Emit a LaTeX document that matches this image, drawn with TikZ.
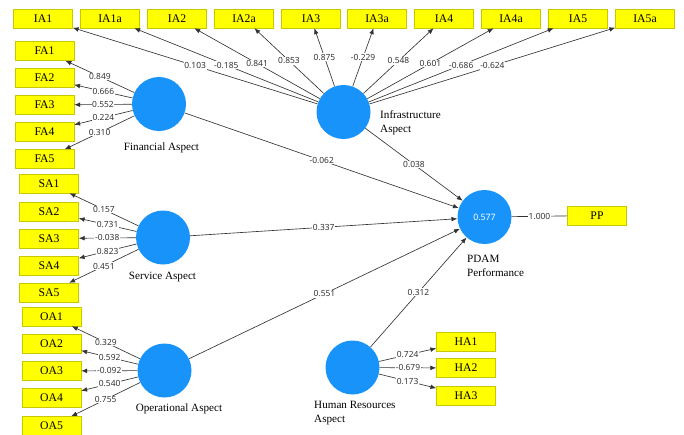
\documentclass[tikz,border=0pt]{standalone}
\usepackage{fontspec}
\setmainfont{Liberation Serif}
\newfontfamily\coeffont{Noto Sans}
\usetikzlibrary{arrows.meta}
\definecolor{LVBlue}{HTML}{1793FA}
\definecolor{MVYellow}{HTML}{FFFF00}
\definecolor{MVEdge}{HTML}{C8C800}
\definecolor{LinkGray}{HTML}{333333}
\tikzset{
  latent/.style={circle, fill=LVBlue, minimum size=1.62cm, inner sep=0pt,
    text=white, font=\coeffont\fontsize{7.5}{9}\selectfont},
  indicator/.style={rectangle, draw=MVEdge, fill=MVYellow, minimum width=1.77cm,
    minimum height=0.57cm, inner sep=0pt, font=\fontsize{10}{12}\selectfont},
  lvname/.style={font=\fontsize{9.5}{11.9}\selectfont, align=left, inner sep=0pt},
  coef/.style={fill=white, inner sep=0.6pt, text=LinkGray,
    font=\coeffont\fontsize{7.2}{8}\selectfont},
  link/.style={draw=LinkGray, line width=0.55pt, -{Latex[length=5pt,width=4pt]}},
}

\begin{document}
\begin{tikzpicture}[x=0.03cm, y=-0.03cm]
  \useasboundingbox (0,0) rectangle (684,434);

  % latent variables
  \node[latent] (fin)  at (159,104)     {};
  \node[latent] (inf)  at (343.5,112)   {};
  \node[latent] (ser)  at (163,237.5)   {};
  \node[latent] (ope)  at (164.5,370.5) {};
  \node[latent] (hum)  at (352.5,367.5) {};
  \node[latent] (pdam) at (484.5,217)   {0.577};

  % names (base of two-line names = last line)
  \node[lvname, anchor=base]      (finname)  at (161.5,150) {Financial Aspect};
  \node[lvname, anchor=base west] (infname)  at (380,132)   {Infrastructure\\Aspect};
  \node[lvname, anchor=base]      (sername)  at (162.5,279) {Service Aspect};
  \node[lvname, anchor=base]      (opename)  at (179,411)   {Operational Aspect};
  \node[lvname, anchor=base west] (humname)  at (314,422)   {Human Resources\\Aspect};
  \node[lvname, anchor=base west] (pdamname) at (467,276)   {PDAM\\Performance};

  % indicators and outer loadings
  \foreach \n/\x/\v in {IA1/43/0.103, IA1a/110/-0.185, IA2/177/0.841, IA2a/244/0.853,
      IA3/311/0.875, IA3a/377/-0.229, IA4/444/0.548, IA4a/511/0.601,
      IA5/578/-0.686, IA5a/645/-0.624} {
    \node[indicator] (\n) at (\x,18.5) {\n};
    \draw[link] (inf) -- node[coef] {\v} (\n);
  }
  \foreach \n/\y/\v in {FA1/51/0.849, FA2/78/0.666, FA3/105/0.552,
      FA4/132/0.224, FA5/159/0.310} {
    \node[indicator] (\n) at (44.5,\y) {\n};
    \draw[link] (fin) -- node[coef] {\v} (\n);
  }
  \foreach \n/\y/\v in {SA1/183.5/0.157, SA2/211.5/0.731, SA3/238.5/-0.038,
      SA4/265.5/0.823, SA5/292.5/0.451} {
    \node[indicator] (\n) at (49,\y) {\n};
    \draw[link] (ser) -- node[coef] {\v} (\n);
  }
  \foreach \n/\y/\v in {OA1/316.5/0.329, OA2/343.5/0.592, OA3/371/-0.092,
      OA4/398/0.540, OA5/426/0.755} {
    \node[indicator] (\n) at (51.5,\y) {\n};
    \draw[link] (ope) -- node[coef] {\v} (\n);
  }
  \foreach \n/\y/\v in {HA1/341.5/0.724, HA2/368/-0.679, HA3/395.5/0.173} {
    \node[indicator] (\n) at (466,\y) {\n};
    \draw[link] (hum) -- node[coef] {\v} (\n);
  }
  \node[indicator] (PP) at (597,215.5) {PP};
  \draw[link, -] (pdam) -- node[coef] {1.000} (PP);

  % path coefficients
  \draw[link] (fin) -- node[coef] {-0.062} (pdam);
  \draw[link] (inf) -- node[coef] {0.038} (pdam);
  \draw[link] (ser) -- node[coef] {0.337} (pdam);
  \draw[link] (ope) -- node[coef] {0.551} (pdam);
  \draw[link] (hum) -- node[coef] {0.312} (pdam);
\end{tikzpicture}
\end{document}
